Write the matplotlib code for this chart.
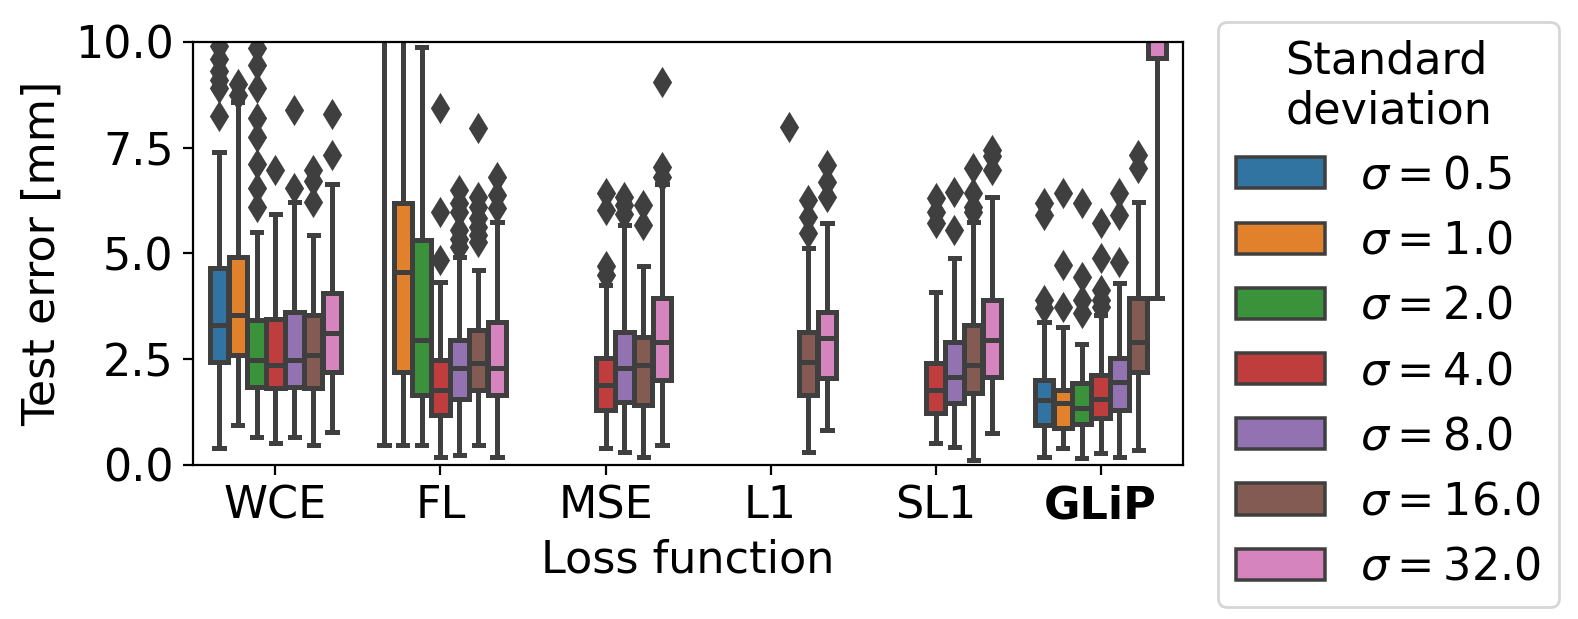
import matplotlib
matplotlib.use('Agg')
import matplotlib.pyplot as plt
import matplotlib.patches as mpatches
import numpy as np
import seaborn as sns

# categories
losses = ['WCE', 'FL', 'MSE', 'L1', 'SL1', 'GLiP']
sigmas = [0.5, 1.0, 2.0, 4.0, 8.0, 16.0, 32.0]

# box stats per sigma: (whislo, q1, median, q3, whishi); None = no data
wce_boxes = [(0.39, 2.44, 3.31, 4.65, 7.40), (0.94, 2.60, 3.54, 4.92, 8.58),
             (0.67, 1.85, 2.48, 3.43, 5.51), (0.51, 1.81, 2.36, 3.46, 5.94),
             (0.67, 1.85, 2.48, 3.62, 6.22), (0.47, 1.81, 2.60, 3.54, 5.43),
             (0.79, 2.20, 3.11, 4.06, 6.65)]
wce_fliers = [[9.9, 9.6, 9.3, 9.1, 8.9, 8.25], [9.0, 8.75], [9.85, 9.45, 8.9, 8.2, 7.75, 7.1, 6.55, 6.1],
              [6.97], [8.38, 6.54], [6.97, 6.7, 6.22], [8.3, 7.32]]

fl_boxes = [(0.47, 12.0, 15.0, 18.0, 25.0), (0.47, 2.20, 4.57, 6.18, 12.0),
            (0.47, 1.65, 2.95, 5.31, 9.88), (0.20, 1.18, 1.77, 2.48, 4.33),
            (0.24, 1.57, 2.28, 2.95, 4.92), (0.47, 1.77, 2.40, 3.19, 4.61),
            (0.20, 1.65, 2.28, 3.39, 5.75)]
fl_fliers = [[], [], [], [8.43, 5.98, 4.84], [6.50, 6.18, 5.98, 5.55, 5.35, 5.16],
             [7.95, 6.34, 6.10, 5.83, 5.63, 5.43, 5.28], [6.81, 6.38, 6.06]]

mse_boxes = [None, None, None, (0.39, 1.30, 1.89, 2.52, 4.25),
             (0.31, 1.50, 2.28, 3.15, 5.67), (0.20, 1.42, 2.36, 3.03, 4.69),
             (0.47, 2.01, 2.91, 3.94, 6.65)]
mse_fliers = [[], [], [], [6.42, 6.02, 4.69, 4.49], [6.34, 6.14, 5.94], [6.14, 5.67], [9.06, 7.05, 6.81]]

l1_boxes = [None, None, None, None, (11.0, 12.0, 14.0, 16.0, 20.0),
            (0.31, 1.65, 2.44, 3.15, 5.12), (0.83, 2.05, 2.99, 3.62, 5.71)]
l1_fliers = [[], [], [], [], [7.99], [6.26, 5.87, 5.47], [7.09, 6.69, 6.34]]

sl1_boxes = [None, None, None, (0.51, 1.22, 1.77, 2.40, 4.09),
             (0.43, 1.46, 2.09, 2.91, 4.88), (0.12, 1.69, 2.36, 3.31, 5.75),
             (0.75, 2.09, 2.95, 3.90, 6.34)]
sl1_fliers = [[], [], [], [6.30, 5.98, 5.71], [6.46, 5.55], [7.01, 6.42, 6.10, 5.98], [7.45, 7.3, 6.97]]

glip_boxes = [(0.20, 0.94, 1.54, 2.01, 3.39), (0.39, 0.87, 1.46, 1.77, 3.27),
              (0.16, 0.98, 1.34, 1.93, 2.87), (0.28, 1.10, 1.57, 2.13, 3.54),
              (0.20, 1.30, 1.97, 2.52, 4.29), (0.35, 2.20, 2.91, 3.94, 6.22),
              (3.94, 9.61, 11.0, 13.0, 16.0)]
glip_fliers = [[6.18, 5.91, 3.90, 3.70], [6.42, 4.72, 3.74], [6.18, 4.45, 3.90, 3.58],
               [5.71, 4.88, 4.13, 3.90, 3.74], [6.42, 5.91, 4.80], [7.32, 7.01], []]

all_boxes = [wce_boxes, fl_boxes, mse_boxes, l1_boxes, sl1_boxes, glip_boxes]
all_fliers = [wce_fliers, fl_fliers, mse_fliers, l1_fliers, sl1_fliers, glip_fliers]

colors = sns.color_palette(n_colors=7, desat=0.75)
gray = '#3f3f3f'
lw = 1.8

fig = plt.figure(figsize=(7.89, 3.095), dpi=200)
ax = fig.add_axes([0.1223, 0.2488, 0.6274, 0.6838])

n = len(sigmas)
each = 0.8 / n
offsets = np.linspace(-0.4 + each / 2, 0.4 - each / 2, n)

for i, loss in enumerate(losses):
    for j in range(n):
        b = all_boxes[i][j]
        if b is None:
            continue
        st = dict(whislo=b[0], q1=b[1], med=b[2], q3=b[3], whishi=b[4], fliers=all_fliers[i][j])
        ax.bxp([st], positions=[i + offsets[j]], widths=each * 0.98, patch_artist=True,
               boxprops=dict(facecolor=colors[j], edgecolor=gray, linewidth=lw),
               medianprops=dict(color=gray, linewidth=lw),
               whiskerprops=dict(color=gray, linewidth=lw),
               capprops=dict(color=gray, linewidth=lw),
               flierprops=dict(marker='d', markerfacecolor=gray, markeredgecolor=gray,
                               markersize=6.5, linestyle='none'),
               manage_ticks=False)

ax.set_xlim(-0.5, len(losses) - 0.5)
ax.set_ylim(0, 10)
ax.set_xticks(range(len(losses)))
ax.set_xticklabels(losses)
ax.get_xticklabels()[-1].set_fontweight('bold')
ax.set_yticks([0, 2.5, 5.0, 7.5, 10.0])
ax.set_yticklabels(['0.0', '2.5', '5.0', '7.5', '10.0'])
ax.tick_params(labelsize=16)
ax.set_xlabel('Loss function', fontsize=16)
ax.set_ylabel('Test error [mm]', fontsize=16)

handles = [mpatches.Patch(facecolor=colors[j], edgecolor=gray, linewidth=lw * 0.7,
                          label=r'$\sigma = %s$' % s) for j, s in enumerate(sigmas)]
fig.legend(handles=handles, title='Standard\ndeviation', fontsize=16, title_fontsize=16,
           loc='upper left', bbox_to_anchor=(0.772, 0.965), borderaxespad=0)

fig.savefig('out.png', dpi=200)
